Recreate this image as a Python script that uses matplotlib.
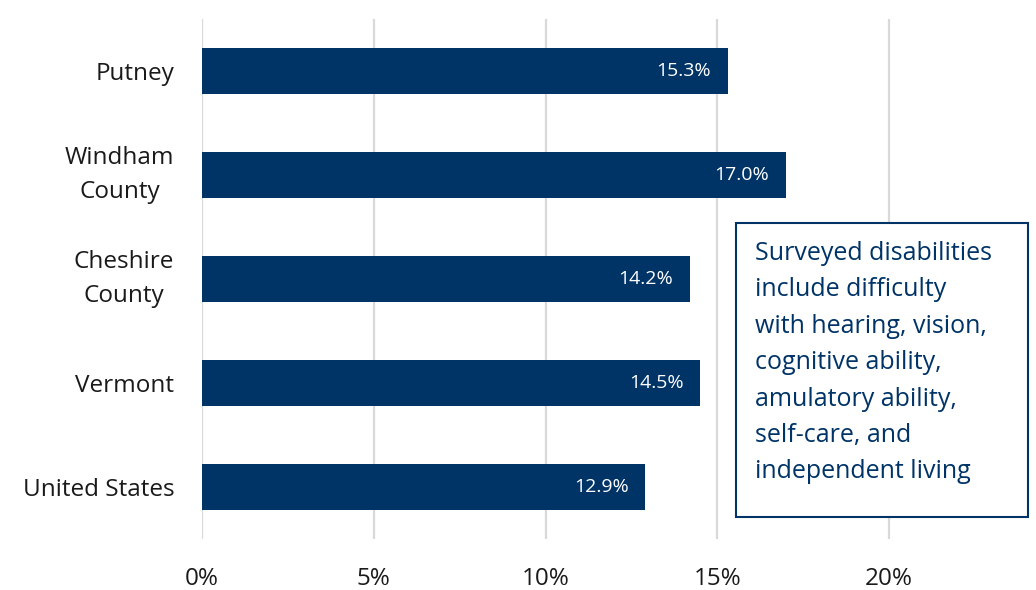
import matplotlib
matplotlib.use("Agg")
import matplotlib.pyplot as plt
from matplotlib.patches import Rectangle

categories = ["Putney", "Windham\nCounty", "Cheshire\nCounty", "Vermont", "United States"]
values = [15.3, 17.0, 14.2, 14.5, 12.9]
xticks = [0, 5, 10, 15, 20]
xtick_labels = ["0%", "5%", "10%", "15%", "20%"]
note = ("Surveyed disabilities\ninclude difficulty\nwith hearing, vision,\ncognitive ability,\n"
        "amulatory ability,\nself-care, and\nindependent living")

BLUE = "#003366"
FONT = ["Open Sans", "DejaVu Sans"]
plt.rcParams['font.family'] = FONT

W, H = 1036, 590
fig = plt.figure(figsize=(W / 100, H / 100), dpi=100)
left, right = 202 / W, 1.0
bottom, top = (H - 539) / H, (H - 19) / H
ax = fig.add_axes([left, bottom, right - left, top - bottom])

n = len(categories)
ypos = list(range(n))
ax.barh(ypos, values, height=0.45, color=BLUE, zorder=3)
px_per_pct = (889 - 202) / 20.0
ax.set_xlim(0, (W - 202) / px_per_pct)
ax.set_ylim(n - 0.5, -0.5)

for y, v in zip(ypos, values):
    ax.annotate(f"{v:.1f}%", xy=(v, y), xytext=(-12, 0), textcoords="offset points",
                ha="right", va="center", color="white", fontsize=14, zorder=4)

ax.set_xticks(xticks)
ax.set_xticklabels(xtick_labels, fontsize=17.5, color="#1a1a1a")
ax.set_yticks(ypos)
labels = ax.set_yticklabels(categories, fontsize=17.5, color="#1a1a1a", linespacing=1.6,
                            multialignment="center")
for lbl in labels:
    lbl.set_va("center" if "\n" in lbl.get_text() else "center_baseline")
ax.tick_params(axis="x", length=0, pad=20)
ax.tick_params(axis="y", length=0, pad=20)
ax.grid(axis="x", color="#d9d9d9", linewidth=1.6, zorder=0)
ax.set_axisbelow(True)
for s in ax.spines.values():
    s.set_visible(False)

# annotation box
box = Rectangle((736 / W, (H - 517) / H), (1028 - 736) / W, (517 - 223) / H,
                transform=fig.transFigure, facecolor="white", edgecolor=BLUE,
                linewidth=1.5, zorder=5)
fig.add_artist(box)
fig.text(755 / W, (H - 241) / H, note, ha="left", va="top", color=BLUE,
         fontsize=18, linespacing=1.6, zorder=6)

fig.savefig("out.png", dpi=100)
